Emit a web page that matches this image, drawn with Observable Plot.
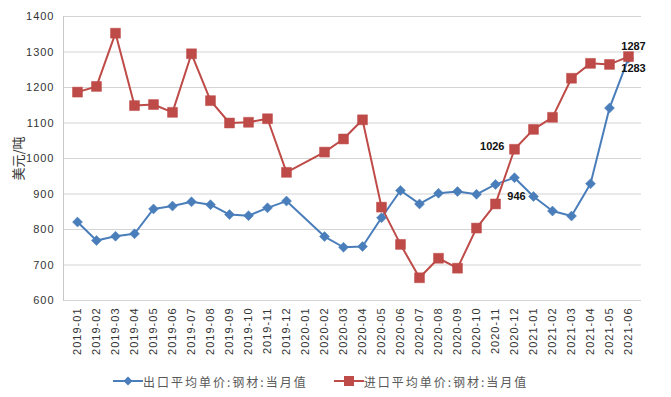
<!DOCTYPE html>
<html>
<head>
<meta charset="utf-8">
<script src="https://cdn.jsdelivr.net/npm/d3@7"></script>
<script src="https://cdn.jsdelivr.net/npm/@observablehq/plot@0.6"></script>
<style>
  html, body { margin: 0; padding: 0; background: #fff; }
  #chart { width: 671px; height: 397px; position: relative; overflow: hidden; font-family: "Liberation Sans", "Noto Sans CJK SC", sans-serif; }
  #chart svg g[aria-label="y-axis tick label"] text,
  #chart svg g[aria-label="x-axis tick label"] text { letter-spacing: 1px; }
  .legend { display: flex; align-items: center; padding-left: 113px; height: 24px; margin-top: 1px;
    font-family: "Noto Sans CJK SC", sans-serif; font-size: 12px; color: #595959; letter-spacing: 2px; }
  .legend .item { display: flex; align-items: center; margin-right: 26px; }
  .legend svg { margin-right: 0px; }
</style>
</head>
<body>
<div id="chart"></div>
<script>
// Tick labels / categories
const months = ["2019-01","2019-02","2019-03","2019-04","2019-05","2019-06","2019-07","2019-08","2019-09","2019-10","2019-11","2019-12",
  "2020-01","2020-02","2020-03","2020-04","2020-05","2020-06","2020-07","2020-08","2020-09","2020-10","2020-11","2020-12",
  "2021-01","2021-02","2021-03","2021-04","2021-05","2021-06"];
// Months with data (Jan 2020 not reported separately)
const dataMonths = ["2019-01","2019-02","2019-03","2019-04","2019-05","2019-06","2019-07","2019-08","2019-09","2019-10","2019-11","2019-12",
  "2020-02","2020-03","2020-04","2020-05","2020-06","2020-07","2020-08","2020-09","2020-10","2020-11","2020-12",
  "2021-01","2021-02","2021-03","2021-04","2021-05","2021-06"];
const exportValues = [821,769,781,788,858,866,878,870,842,839,861,880,
  780,750,752,833,910,872,902,907,899,927,946,
  893,852,838,929,1142,1283];
const importValues = [1187,1203,1353,1149,1152,1130,1295,1163,1100,1102,1112,961,
  1018,1055,1109,863,758,664,719,691,804,872,1026,
  1082,1116,1226,1268,1265,1287];
const seriesNames = ["出口平均单价:钢材:当月值", "进口平均单价:钢材:当月值"];
const seriesColors = ["#4a7ebb", "#be4b48"];
const yTicks = [600,700,800,900,1000,1100,1200,1300,1400];
const yLabel = "美元/吨";
const labelledMonths = ["2020-12", "2021-06"];

const exportData = dataMonths.map((m, i) => ({month: m, value: exportValues[i]}));
const importData = dataMonths.map((m, i) => ({month: m, value: importValues[i]}));
const pick = (data, m) => data.filter(d => d.month === m);

const plot = Plot.plot({
  width: 671,
  height: 368,
  marginLeft: 63,
  marginRight: 30,
  marginTop: 16,
  marginBottom: 68,
  style: {fontFamily: "'Liberation Sans', 'Noto Sans CJK SC', sans-serif", fontSize: "11px", color: "#333", background: "#fff"},
  x: {type: "point", domain: months, padding: 0.5},
  y: {domain: [600, 1400]},
  marks: [
    Plot.gridY(yTicks, {stroke: "#d4d4d4", strokeOpacity: 1, strokeWidth: 1.2}),
    Plot.frame({anchor: "left", stroke: "#c8c8c8"}),
    Plot.axisY({ticks: yTicks, tickFormat: d => String(d), tickSize: 0, tickPadding: 9, fontSize: 11, fill: "#333",
      label: yLabel, labelAnchor: "center", labelArrow: false, labelOffset: 50}),
    Plot.axisX({tickRotate: -90, tickSize: 0, tickPadding: 7, fontSize: 11, fill: "#333", label: null}),
    Plot.line(exportData, {x: "month", y: "value", stroke: seriesColors[0], strokeWidth: 2}),
    Plot.line(importData, {x: "month", y: "value", stroke: seriesColors[1], strokeWidth: 2}),
    Plot.dot(exportData, {x: "month", y: "value", symbol: "diamond2", r: 4.5, fill: seriesColors[0], stroke: seriesColors[0], strokeWidth: 0.5}),
    Plot.dot(importData, {x: "month", y: "value", symbol: "square", r: 5.6, fill: seriesColors[1], stroke: seriesColors[1], strokeWidth: 0.5}),
    Plot.text(pick(importData, labelledMonths[1]), {x: "month", y: "value", text: d => String(d.value), dx: 5, dy: -10, fontWeight: "bold", fontSize: 11, fill: "#111"}),
    Plot.text(pick(exportData, labelledMonths[1]), {x: "month", y: "value", text: d => String(d.value), dx: 5, dy: 10, fontWeight: "bold", fontSize: 11, fill: "#111"}),
    Plot.text(pick(importData, labelledMonths[0]), {x: "month", y: "value", text: d => String(d.value), dx: -10, dy: -3, textAnchor: "end", fontWeight: "bold", fontSize: 11, fill: "#111"}),
    Plot.text(pick(exportData, labelledMonths[0]), {x: "month", y: "value", text: d => String(d.value), dx: 2, dy: 19, fontWeight: "bold", fontSize: 11, fill: "#111"})
  ]
});
const chart = document.getElementById("chart");
chart.appendChild(plot);
plot.querySelectorAll('g[aria-label="y-axis label"] text').forEach(t => {
  t.style.fontFamily = "'Noto Sans CJK SC', sans-serif";
  t.style.fontSize = "13px";
});

// Legend
const legend = document.createElement("div");
legend.className = "legend";
seriesNames.forEach((name, i) => {
  const item = document.createElement("div");
  item.className = "item";
  const sw = d3.create("svg").attr("width", 30).attr("height", 12);
  sw.append("line").attr("x1", 0).attr("x2", 30).attr("y1", 6).attr("y2", 6).attr("stroke", seriesColors[i]).attr("stroke-width", 2);
  if (i === 0) {
    sw.append("path").attr("d", "M15,1.5L19.5,6L15,10.5L10.5,6Z").attr("fill", seriesColors[i]);
  } else {
    sw.append("rect").attr("x", 10).attr("y", 1).attr("width", 10).attr("height", 10).attr("fill", seriesColors[i]);
  }
  item.appendChild(sw.node());
  const span = document.createElement("span");
  span.textContent = name;
  item.appendChild(span);
  legend.appendChild(item);
});
chart.appendChild(legend);
</script>
</body>
</html>
